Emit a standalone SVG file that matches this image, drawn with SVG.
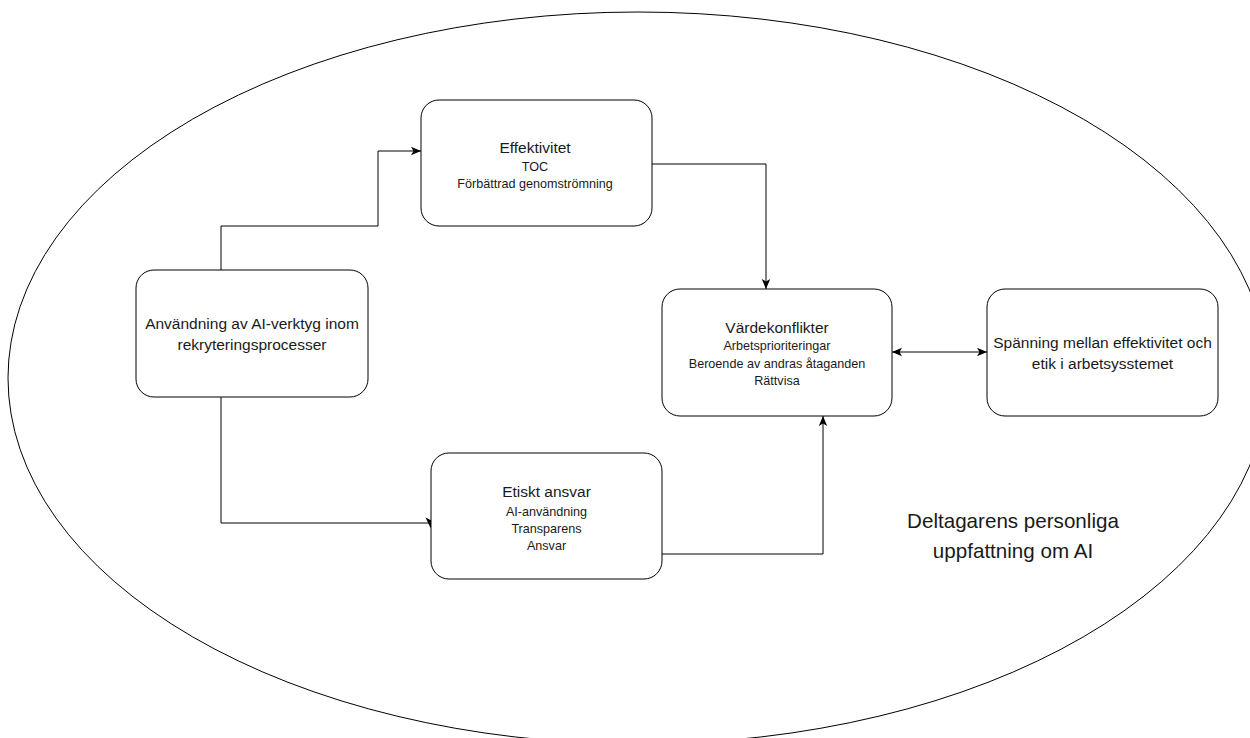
<svg xmlns="http://www.w3.org/2000/svg" width="1250" height="738" viewBox="0 0 1250 738">
<style>
.box{fill:#fff;stroke:#000;stroke-width:1}
.edge{fill:none;stroke:#000;stroke-width:1}
text{font-family:"Liberation Sans",Arial,Helvetica,sans-serif;fill:#1a1a1a;text-anchor:middle}
.t{font-size:15.5px}
.s{font-size:12.6px}
.big{font-size:20.6px}
</style>
<defs>
<marker id="arr" viewBox="0 0 10 10" refX="10" refY="5" markerWidth="10" markerHeight="10" markerUnits="userSpaceOnUse" orient="auto-start-reverse">
<path d="M0,0.8 L10,5 L0,9.2 L2.5,5 Z" fill="#000"/>
</marker>
</defs>
<rect width="1250" height="738" fill="#fff"/>
<g id="ellipse">
<ellipse cx="638" cy="378" rx="630" ry="366" fill="none" stroke="#000" stroke-width="1"/>
<text class="big" x="1013" y="528">Deltagarens personliga</text>
<text class="big" x="1013" y="558">uppfattning om AI</text>
</g>
<g id="connectors">
<path class="edge" d="M221,270 V226 H378 V151 H421" marker-end="url(#arr)"/>
<path class="edge" d="M221,397 V523 H430.5"/>
<path d="M425.5,517.5 L430.5,528 L435.5,517.5 L430.5,520 Z" fill="#000"/>
<path class="edge" d="M652,164 H766 V289" marker-end="url(#arr)"/>
<path class="edge" d="M662,554 H823 V416" marker-end="url(#arr)"/>
<path class="edge" d="M892,352 H987" marker-start="url(#arr)" marker-end="url(#arr)"/>
</g>
<g id="node-anvandning">
<rect class="box" x="136" y="270" width="232" height="127" rx="18" ry="18"/>
<text class="t" x="252" y="329">Användning av AI-verktyg inom</text>
<text class="t" x="252" y="350">rekryteringsprocesser</text>
</g>
<g id="node-effektivitet">
<rect class="box" x="421" y="100" width="231" height="126" rx="18" ry="18"/>
<text class="t" x="535" y="153">Effektivitet</text>
<text class="s" x="535" y="171">TOC</text>
<text class="s" x="535" y="188">Förbättrad genomströmning</text>
</g>
<g id="node-etiskt">
<rect class="box" x="431" y="453" width="231" height="126" rx="18" ry="18"/>
<text class="t" x="546.5" y="497">Etiskt ansvar</text>
<text class="s" x="546.5" y="516">AI-användning</text>
<text class="s" x="546.5" y="533">Transparens</text>
<text class="s" x="546.5" y="550">Ansvar</text>
</g>
<g id="node-vardekonflikter">
<rect class="box" x="662" y="289" width="230" height="127" rx="18" ry="18"/>
<text class="t" x="777" y="333">Värdekonflikter</text>
<text class="s" x="777" y="350">Arbetsprioriteringar</text>
<text class="s" x="777" y="368">Beroende av andras åtaganden</text>
<text class="s" x="777" y="385">Rättvisa</text>
</g>
<g id="node-spanning">
<rect class="box" x="987" y="289" width="231" height="127" rx="18" ry="18"/>
<text class="t" x="1102.5" y="348">Spänning mellan effektivitet och</text>
<text class="t" x="1102.5" y="369">etik i arbetsysstemet</text>
</g>
</svg>
